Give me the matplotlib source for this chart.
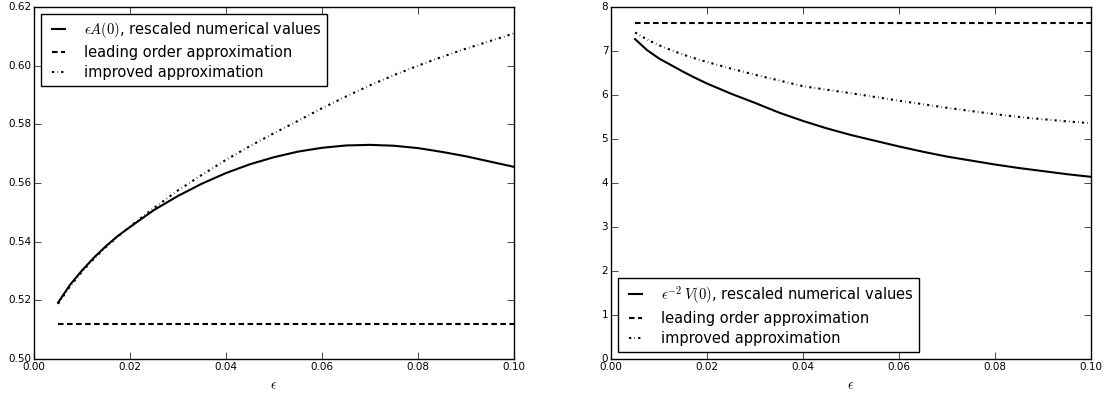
import matplotlib
matplotlib.use("Agg")
import matplotlib.pyplot as plt
from matplotlib.ticker import FormatStrFormatter, MultipleLocator

plt.style.use('classic')

# epsilon grid used for both panels
eps = [0.005, 0.0075, 0.01, 0.0125, 0.015, 0.0175, 0.02, 0.025, 0.03, 0.035,
       0.04, 0.045, 0.05, 0.055, 0.06, 0.065, 0.07, 0.075, 0.08, 0.085,
       0.09, 0.095, 0.10]

# left panel: eps*A(0)
A_num = [0.5192, 0.5253, 0.5302, 0.5346, 0.5385, 0.5420, 0.5450, 0.5508, 0.5556, 0.5598,
         0.5634, 0.5664, 0.5688, 0.5707, 0.5720, 0.5728, 0.5730, 0.5727, 0.5719, 0.5706,
         0.5691, 0.5673, 0.5655]
A_lead = 0.512
A_impr = [0.5188, 0.5248, 0.5298, 0.5342, 0.5382, 0.5418, 0.5452, 0.5515, 0.5575, 0.5628,
          0.5679, 0.5726, 0.5770, 0.5812, 0.5855, 0.5895, 0.5933, 0.5968, 0.6000, 0.6030,
          0.6058, 0.6084, 0.6110]

# right panel: eps^-2 V(0)
V_num = [7.27, 7.02, 6.83, 6.68, 6.53, 6.39, 6.26, 6.03, 5.82, 5.60,
         5.41, 5.24, 5.09, 4.96, 4.83, 4.71, 4.60, 4.51, 4.42, 4.34,
         4.27, 4.20, 4.14]
V_lead = 7.63
V_impr = [7.42, 7.26, 7.13, 7.02, 6.92, 6.83, 6.75, 6.60, 6.46, 6.33,
          6.20, 6.12, 6.04, 5.955, 5.87, 5.79, 5.71, 5.635, 5.565, 5.50,
          5.45, 5.40, 5.36]

dashdot = (0, (1.6, 2.3, 0.4, 2.3))
dashed = (0, (4, 2.5))

fig = plt.figure(figsize=(11.09, 3.98), dpi=100, facecolor='white')
ax1 = fig.add_axes([0.0307, 0.098, 0.4328, 0.8844])
ax2 = fig.add_axes([0.551, 0.098, 0.4328, 0.8844])

leg_kw = dict(fontsize=10.5, handlelength=1.5, handletextpad=1.0,
              labelspacing=0.35, borderaxespad=0.5, fancybox=False)

ax1.plot(eps, A_num, color='black', lw=1.5, ls='-', label=r'$\epsilon A(0)$, rescaled numerical values')
ax1.plot(eps, [A_lead] * len(eps), color='black', lw=1.5, ls=dashed, label='leading order approximation')
ax1.plot(eps, A_impr, color='black', lw=1.5, ls=dashdot, label='improved approximation')
ax1.set_ylim(0.50, 0.62)
ax1.yaxis.set_major_locator(MultipleLocator(0.02))
ax1.yaxis.set_major_formatter(FormatStrFormatter('%.2f'))
ax1.legend(loc='upper left', **leg_kw)

ax2.plot(eps, V_num, color='black', lw=1.5, ls='-', label=r'$\epsilon^{-2}\,V(0)$, rescaled numerical values')
ax2.plot(eps, [V_lead] * len(eps), color='black', lw=1.5, ls=dashed, label='leading order approximation')
ax2.plot(eps, V_impr, color='black', lw=1.5, ls=dashdot, label='improved approximation')
ax2.set_ylim(0, 8)
ax2.yaxis.set_major_locator(MultipleLocator(1))
ax2.legend(loc='lower left', **leg_kw)

for ax in (ax1, ax2):
    ax.set_xlim(0, 0.10)
    ax.xaxis.set_major_locator(MultipleLocator(0.02))
    ax.xaxis.set_major_formatter(FormatStrFormatter('%.2f'))
    ax.tick_params(labelsize=7.5, length=5, pad=2)
    ax.set_xlabel(r'$\epsilon$', fontsize=10, labelpad=5)

fig.savefig('out.png', dpi=100, facecolor='white')
